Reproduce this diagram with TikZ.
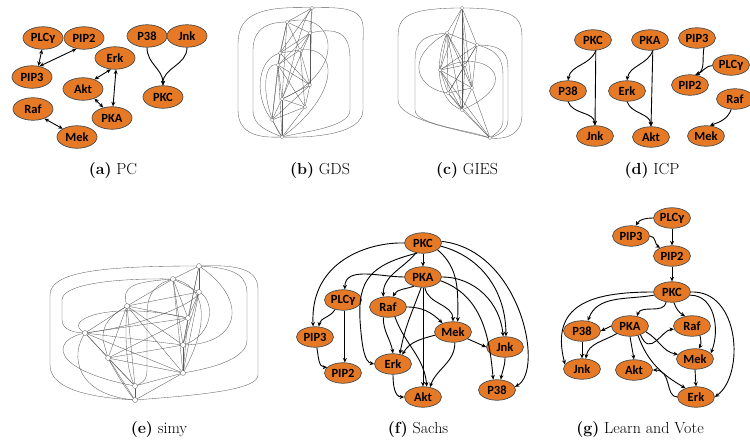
\documentclass[tikz,border=0pt]{standalone}
\usepackage{fontspec}
\newfontfamily\carl{Carlito}
\usetikzlibrary{shapes.geometric,arrows.meta}
\definecolor{orng}{RGB}{230,121,38}
\begin{document}
\begin{tikzpicture}[x=1pt,y=-1pt,
 nd/.style={ellipse,draw=black!70,line width=0.7pt,fill=orng,minimum width=37pt,minimum height=20.5pt,inner sep=0pt,font=\carl\bfseries\fontsize{12.5}{13}\selectfont},
 nda/.style={nd,minimum width=40pt,minimum height=22.5pt},
 ar/.style={line width=0.9pt,-{Stealth[length=4.5pt,width=4pt]}},
 dar/.style={line width=0.9pt,{Stealth[length=4.5pt,width=4pt]}-{Stealth[length=4.5pt,width=4pt]}},
 captxt/.style={font=\fontsize{16}{18}\selectfont},
 gn/.style={circle,draw=black!60,fill=white,minimum size=3.5pt,inner sep=0pt,line width=0.3pt},
 gl/.style={draw=black!65,line width=0.33pt},
]
\useasboundingbox[fill=white] (0,0) rectangle (750,441);

% ---------------- (a) PC
\node[nda] (aplc) at (43,38) {PLCγ};
\node[nda] (apip2) at (84,38) {PIP2};
\node[nda] (apip3) at (32,77) {PIP3};
\node[nda] (aerk) at (115,58) {Erk};
\node[nda] (aakt) at (83,89) {Akt};
\node[nda] (apka) at (112,118) {PKA};
\node[nda] (araf) at (33,109) {Raf};
\node[nda] (amek) at (77,137) {Mek};
\node[nda] (ap38) at (147,36) {P38};
\node[nda] (ajnk) at (187,36) {Jnk};
\node[nda] (apkc) at (163,97) {PKC};
\draw[dar] (aplc.265) -- (apip3.60);
\draw[dar] (apip3.55) -- (apip2.235);
\draw[dar] (aerk.250) -- (aakt.40);
\draw[dar] (aerk.275) -- (apka.85);
\draw[dar] (aakt.-40) -- (apka.130);
\draw[dar] (araf.-40) -- (amek.150);
\draw[ar] (ap38.south) to[out=-90,in=90] (apkc.north);
\draw[ar] (ajnk.south) to[out=-90,in=90] (apkc.north);
\node[captxt] (capa) at (113,171) {\textbf{(a)} PC};

% ---------------- (b) GDS
\foreach \n/\x/\y in {b1/312/8,b2/287/22,b3/310/33,b4/280/53,b5/300/50,b6/278/65,b7/310/85,b8/282/99,b9/272/120,b10/305/107,b11/282/137}
  \coordinate (\n) at (\x,\y);
\foreach \p/\q in {b1/b2,b1/b3,b1/b4,b1/b7,b2/b3,b2/b4,b2/b5,b2/b6,b2/b8,b3/b4,b3/b5,b3/b6,b3/b7,b3/b8,b4/b5,b4/b6,b4/b7,b4/b9,b5/b6,b5/b7,b5/b10,b6/b7,b6/b8,b6/b9,b6/b10,b7/b8,b7/b9,b7/b10,b8/b9,b8/b10,b8/b11,b9/b10,b9/b11,b10/b11,b6/b11}
  \draw[gl] (\p) -- (\q);
\draw[gl] (b1) .. controls (250,5) and (238,20) .. (238,45) -- (238,110) .. controls (238,135) and (260,138) .. (b11);
\draw[gl] (b1) .. controls (370,5) and (363,20) .. (363,45) -- (363,110) .. controls (363,135) and (310,138) .. (b11);
\draw[gl] (b2) .. controls (260,22) and (253,35) .. (253,50) -- (253,110) .. controls (253,125) and (265,130) .. (b11);
\draw[gl] (b3) .. controls (345,25) and (350,40) .. (350,60) -- (350,110) .. controls (350,128) and (300,132) .. (b11);
\draw[gl] (b2) .. controls (335,8) and (350,70) .. (b8);
\draw[gl] (b4) .. controls (255,60) and (255,100) .. (b9);
\draw[gl] (b5) .. controls (340,45) and (340,95) .. (b11);
\draw[gl] (b1) .. controls (300,20) and (290,80) .. (b8);
\draw[gl] (b6) .. controls (260,60) and (262,110) .. (b11);
\foreach \n in {b1,b2,b3,b4,b5,b6,b7,b8,b9,b10,b11} \node[gn] at (\n) {};
\node[captxt] (capb) at (320,171) {\textbf{(b)} GDS};

% ---------------- (c) GIES
\foreach \n/\x/\y in {c1/462/8,c2/447/33,c3/477/45,c4/440/70,c5/465/65,c6/472/88,c7/448/93,c8/462/110,c9/490/138}
  \coordinate (\n) at (\x,\y);
\foreach \p/\q in {c1/c2,c1/c3,c1/c4,c1/c5,c1/c6,c1/c8,c2/c3,c2/c4,c2/c5,c2/c6,c2/c7,c2/c8,c3/c4,c3/c5,c3/c6,c3/c7,c4/c5,c4/c6,c4/c7,c4/c8,c5/c6,c5/c7,c5/c8,c6/c7,c6/c8,c6/c9,c7/c8,c7/c9,c8/c9,c4/c9}
  \draw[gl] (\p) -- (\q);
\draw[gl] (c1) .. controls (400,8) and (398,20) .. (398,40) -- (398,100) .. controls (398,120) and (460,130) .. (c9);
\draw[gl] (c1) .. controls (520,8) and (522,20) .. (522,40) -- (522,115) .. controls (522,135) and (505,140) .. (c9);
\draw[gl] (c2) .. controls (420,35) and (415,45) .. (415,60) -- (415,110) .. controls (415,125) and (470,130) .. (c9);
\draw[gl] (c3) .. controls (505,45) and (508,55) .. (508,70) -- (508,120) .. controls (508,132) and (495,136) .. (c9);
\draw[gl] (c3) .. controls (498,50) and (503,60) .. (503,75) -- (503,120) .. controls (503,130) and (495,134) .. (c9);
\draw[gl] (c4) .. controls (480,45) and (530,80) .. (c8);
\draw[gl] (c2) .. controls (400,60) and (420,90) .. (c7);
\draw[gl] (c2) .. controls (435,60) and (435,100) .. (c8);
\foreach \n in {c1,c2,c3,c4,c5,c6,c7,c8,c9} \node[gn] at (\n) {};
\node[captxt] (capc) at (467,171) {\textbf{(c)} GIES};

% ---------------- (d) ICP
\node[nd] (dpkc) at (593,40) {PKC};
\node[nd] (dpka) at (650,40) {PKA};
\node[nd] (dpip3) at (697,38) {PIP3};
\node[nd] (dplc) at (731,65) {PLCγ};
\node[nd] (dp38) at (568,91) {P38};
\node[nd] (derk) at (627,91) {Erk};
\node[nd] (dpip2) at (690,85) {PIP2};
\node[nd] (draf) at (735,99) {Raf};
\node[nd] (djnk) at (595,136) {Jnk};
\node[nd] (dakt) at (651,137) {Akt};
\node[nd] (dmek) at (706,136) {Mek};
\draw[ar] (dpkc.-75) to[out=-110,in=80] (dp38.north);
\draw[ar] (dpkc.-75) -- (djnk.north);
\draw[ar] (dp38.south) to[out=-70,in=95] (djnk.north);
\draw[ar] (dpka.-75) to[out=-110,in=80] (derk.north);
\draw[ar] (dpka.-75) -- (dakt.north);
\draw[ar] (derk.south) to[out=-70,in=95] (dakt.north);
\draw[ar] (dpip3.-55) to[out=-100,in=25] (dpip2.62);
\draw[ar] (dplc.182) to[out=185,in=20] (dpip2.62);
\draw[ar] (draf.250) to[out=-110,in=20] (dmek.70);
\node[captxt] (capd) at (652,171) {\textbf{(d)} ICP};

% ---------------- (e) simy
\foreach \n/\x/\y in {s1/199/266,s2/173/279,s3/199/292,s4/127/306,s5/188/318,s6/85/333,s7/183/345,s8/108/358,s9/183/373,s10/135/386,s11/135/400}
  \coordinate (\n) at (\x,\y);
\foreach \p/\q in {s1/s2,s1/s3,s1/s5,s1/s7,s2/s3,s2/s4,s2/s5,s2/s7,s3/s4,s3/s5,s3/s7,s3/s9,s4/s5,s4/s6,s4/s7,s4/s8,s4/s9,s4/s10,s5/s6,s5/s7,s5/s8,s5/s9,s6/s7,s6/s8,s6/s10,s7/s8,s7/s9,s8/s9,s8/s10,s9/s10,s10/s11,s8/s11,s9/s11,s6/s9,s2/s9}
  \draw[gl] (\p) -- (\q);
\draw[gl] (s1) .. controls (100,266) and (50,272) .. (50,295) -- (50,365) .. controls (50,392) and (100,398) .. (s11);
\draw[gl] (s1) .. controls (245,264) and (258,272) .. (258,290) -- (258,375) .. controls (258,390) and (200,395) .. (s11);
\draw[gl] (s1) .. controls (240,268) and (247,278) .. (247,295) -- (247,340) .. controls (247,362) and (200,370) .. (s9);
\draw[gl] (s2) .. controls (110,278) and (62,285) .. (62,300) -- (62,320) .. controls (62,330) and (75,333) .. (s6);
\draw[gl] (s2) .. controls (135,282) and (120,285) .. (s4);
\draw[gl] (s2) .. controls (150,285) and (147,300) .. (147,315) -- (147,370) .. controls (147,382) and (140,384) .. (s10);
\draw[gl] (s4) .. controls (103,320) and (103,330) .. (103,340) -- (s8);
\draw[gl] (s4) .. controls (125,330) and (125,370) .. (s10);
\draw[gl] (s6) .. controls (70,355) and (75,395) .. (s11);
\draw[gl] (s6) .. controls (50,340) and (50,370) .. (s10);
\draw[gl] (s3) .. controls (215,300) and (215,335) .. (s7);
\draw[gl] (s2) .. controls (205,285) and (212,320) .. (s9);
\draw[gl] (s6) .. controls (60,320) and (110,300) .. (s5);
\draw[gl] (s7) .. controls (240,345) and (250,300) .. (s1);
\draw[gl] (s8) .. controls (120,380) and (130,395) .. (s11);
\draw[gl] (s6) .. controls (150,325) and (200,300) .. (s3);
\foreach \n in {s1,s2,s3,s4,s5,s6,s7,s8,s9,s10,s11} \node[gn,minimum size=5pt] at (\n) {};
\node[captxt] (cape) at (159,430) {\textbf{(e)} simy};

% ---------------- (f) Sachs
\node[nd] (fpkc) at (423,243) {PKC};
\node[nd] (fpka) at (423,277) {PKA};
\node[nd] (fplc) at (343,300) {PLCγ};
\node[nd] (fraf) at (388,307) {Raf};
\node[nd] (fmek) at (453,332) {Mek};
\node[nd] (fpip3) at (315,337) {PIP3};
\node[nd] (fjnk) at (505,347) {Jnk};
\node[nd] (ferk) at (393,364) {Erk};
\node[nd] (fpip2) at (343,373) {PIP2};
\node[nd] (fakt) at (423,397) {Akt};
\node[nd] (fp38) at (497,390) {P38};
\draw[ar] (fpkc.west) .. controls (370,242) and (310,260) .. (fpip3.100);
\draw[ar] (fpkc.south) -- (fpka.north);
\draw[ar] (fpkc.235) to[out=-130,in=90] (fraf.115);
\draw[ar] (fpkc.240) .. controls (370,265) and (358,280) .. (360,320) .. controls (362,350) and (365,362) .. (ferk.west);
\draw[ar] (fpkc.-25) to[out=-40,in=90] (fmek.65);
\draw[ar] (fpkc.-10) to[out=-15,in=90] (fjnk.85);
\draw[ar] (fpkc.5) .. controls (520,250) and (545,370) .. (fp38.10);
\draw[ar] (fpka.west) to[out=180,in=90] (fplc.80);
\draw[ar] (fpka.225) to[out=-160,in=60] (fraf.65);
\draw[ar] (fpka.south) -- (fakt.north);
\draw[ar] (fpka.-80) to[out=-80,in=90] (fmek.north);
\draw[ar] (fpka.-100) to[out=-110,in=80] (ferk.55);
\draw[ar] (fpka.east) to[out=0,in=95] (fjnk.100);
\draw[ar] (fpka.-12) to[out=-20,in=95] (fp38.110);
\draw[ar] (fraf.east) to[out=0,in=135] (fmek.140);
\draw[ar] (fraf.-115) to[out=-90,in=100] (ferk.north);
\draw[ar] (fraf.-55) to[out=-70,in=95] (fakt.70);
\draw[ar] (fmek.190) to[out=195,in=60] (ferk.45);
\draw[ar] (fmek.-25) -- (fjnk.west);
\draw[ar] (fmek.-80) to[out=-90,in=70] (fakt.55);
\draw[ar] (ferk.south) to[out=-90,in=180] (fakt.west);
\draw[ar] (fplc.230) to[out=-120,in=80] (fpip3.70);
\draw[ar] (fplc.-80) -- (fpip2.80);
\draw[ar] (fpip3.-80) to[out=-80,in=180] (fpip2.160);
\draw[ar] (fjnk.-90) to[out=-90,in=80] (fp38.70);
\node[captxt] (capf) at (418,430) {\textbf{(f)} Sachs};

% ---------------- (g) Learn and Vote
\node[nd] (gplc) at (672,218) {PLCγ};
\node[nd] (gpip3) at (631,236) {PIP3};
\node[nd] (gpip2) at (672,256) {PIP2};
\node[nd] (gpkc) at (672,292) {PKC};
\node[nd] (graf) at (692,326) {Raf};
\node[nd] (gp38) at (582,331) {P38};
\node[nd] (gpka) at (630,326) {PKA};
\node[nd] (gmek) at (695,359) {Mek};
\node[nd] (gjnk) at (582,369) {Jnk};
\node[nd] (gakt) at (634,370) {Akt};
\node[nd] (gerk) at (696,397) {Erk};
\draw[ar] (gplc.west) to[out=180,in=60] (gpip3.65);
\draw[ar] (gplc.south) -- (gpip2.north);
\draw[ar] (gpip3.east) to[out=0,in=150] (gpip2.145);
\draw[ar] (gpip2.south) -- (gpkc.north);
\draw[ar] (gpkc.190) to[out=190,in=70] (gp38.60);
\draw[ar] (gpkc.west) .. controls (590,292) and (550,305) .. (gjnk.165);
\draw[ar] (gpkc.-120) to[out=-100,in=70] (gpka.55);
\draw[ar] (gpkc.-80) to[out=-70,in=150] (graf.125);
\draw[ar] (gpkc.-10) .. controls (715,295) and (720,330) .. (gmek.20);
\draw[ar] (gpkc.east) .. controls (740,290) and (745,375) .. (gerk.east);
\draw[ar] (gpka.west) -- (gp38.east);
\draw[ar] (gpka.-150) to[out=-150,in=80] (gjnk.70);
\draw[ar] (gp38.south) -- (gjnk.north);
\draw[ar] (gpka.south) -- (gakt.north);
\draw[ar] (gpka.-40) .. controls (650,358) and (662,330) .. (graf.190);
\draw[ar] (gpka.-20) to[out=-30,in=170] (gmek.165);
\draw[ar] (gpka.-50) to[out=-70,in=150] (gerk.140);
\draw[ar] (graf.-50) to[out=-80,in=60] (gmek.70);
\draw[ar] (gmek.south) -- (gerk.north);
\draw[ar] (gerk.180) .. controls (665,397) and (672,370) .. (gakt.east);
\node[captxt] (capg) at (640,430) {\textbf{(g)} Learn and Vote};
\end{tikzpicture}
\end{document}
